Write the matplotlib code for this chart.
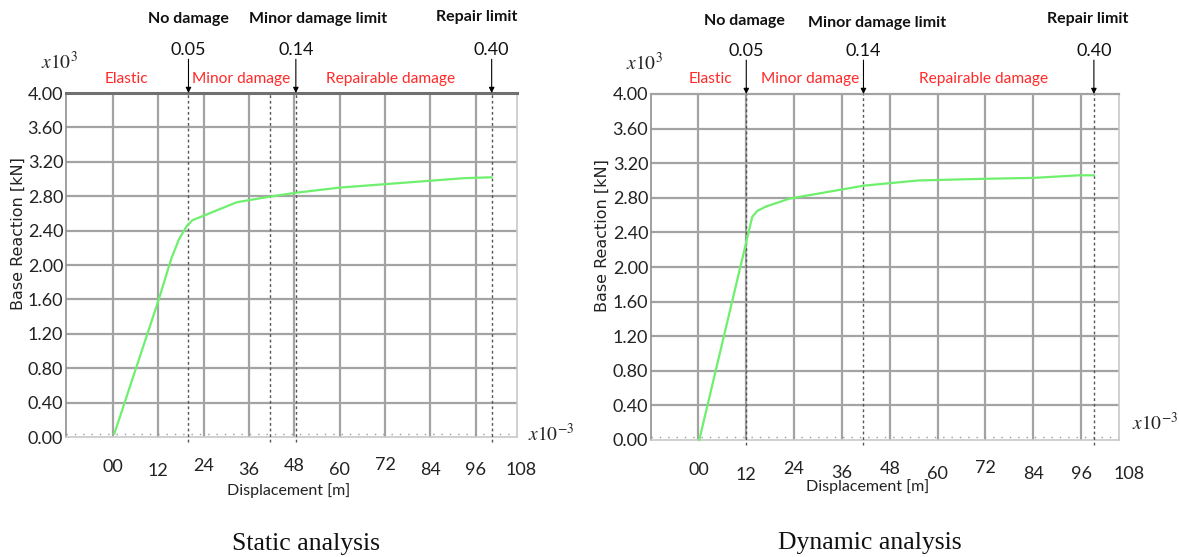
import matplotlib
matplotlib.use("Agg")
import matplotlib.pyplot as plt
import matplotlib.transforms as mtransforms
from matplotlib import font_manager

# ---------------- data ----------------
static_disp = [0.4, 12.0, 15.5, 17.5, 19.5, 21.0, 32.8, 41.5, 48.4, 60.0, 72.0, 84.0, 93.0, 100.2]
static_force = [0.04, 1.58, 2.08, 2.30, 2.45, 2.52, 2.73, 2.795, 2.84, 2.90, 2.94, 2.98, 3.01, 3.02]

dynamic_disp = [0.2, 13.5, 14.8, 17.0, 22.8, 41.4, 55.0, 72.0, 84.0, 95.4, 99.2]
dynamic_force = [0.0, 2.58, 2.65, 2.70, 2.79, 2.94, 3.00, 3.02, 3.03, 3.06, 3.06]

x_ticks = [0, 12, 24, 36, 48, 60, 72, 84, 96, 108]
x_tick_labels = ["00", "12", "24", "36", "48", "60", "72", "84", "96", "108"]
y_ticks = [0.0, 0.4, 0.8, 1.2, 1.6, 2.0, 2.4, 2.8, 3.2, 3.6, 4.0]
y_tick_labels = ["0.00", "0.40", "0.80", "1.20", "1.60", "2.00", "2.40", "2.80", "3.20", "3.60", "4.00"]

limit_names = ["No damage", "Minor damage limit", "Repair limit"]
limit_values = ["0.05", "0.14", "0.40"]
static_limit_disp = [20.0, 48.4, 100.2]
dynamic_limit_disp = [12.0, 41.4, 99.2]
static_extra_dotted = [41.5]
dynamic_extra_dotted = []

region_names = ["Elastic", "Minor damage", "Repairable damage"]
captions = ["Static analysis", "Dynamic analysis"]


def pick(families):
    avail = {f.name for f in font_manager.fontManager.ttflist}
    for f in families:
        if f in avail:
            return f
    return "DejaVu Sans"


NARROW = pick(["Lato", "Liberation Sans Narrow", "Open Sans", "Liberation Sans"])
SERIF = pick(["Liberation Serif", "DejaVu Serif"])
plt.rcParams["mathtext.fontset"] = "stix"

W, H = 1179, 557
fig = plt.figure(figsize=(W / 100, H / 100), dpi=100)


def fig_rect(l, r, t, b):
    return [l / W, 1 - b / H, (r - l) / W, (b - t) / H]


GRID = "#a3a3a3"
RED = "#ff2a2a"
FS = 13


def draw_panel(rect, xlim, disp, force, limit_disp, extra_dotted, region_x,
               name_offsets, top_thick, caption, cap_x, cap_y, xl_x, xl_y):
    ax = fig.add_axes(rect)
    ax.set_xlim(*xlim)
    ax.set_ylim(0, 4.0)
    # grid
    for xv in x_ticks:
        if xlim[0] < xv < xlim[1] - 0.5:
            ax.axvline(xv, color=GRID, lw=1.6, zorder=1)
    for yv in y_ticks[1:-1]:
        ax.axhline(yv, color=GRID, lw=1.6, zorder=1)
    # spines
    for s in ["left", "right", "bottom", "top"]:
        ax.spines[s].set_color("#c8c8c8")
        ax.spines[s].set_linewidth(1.2)
    ax.spines["left"].set_color("#909090")
    if top_thick:
        ax.spines["top"].set_color("#707070")
        ax.spines["top"].set_linewidth(2.2)
    else:
        ax.spines["top"].set_color(GRID)
        ax.spines["top"].set_linewidth(1.6)
    ax.axhline(0.03, color="#9a9a9a", lw=1.0, ls=(0, (1, 5)), zorder=1)
    # y ticks
    ax.set_yticks(y_ticks)
    ax.set_yticklabels(y_tick_labels, fontfamily=NARROW, fontsize=FS, color="#222222")
    ax.tick_params(axis="y", length=0, pad=2)
    ax.set_xticks([])
    # x tick labels (text, last one sits beyond the frame)
    tr = mtransforms.blended_transform_factory(ax.transData, ax.transAxes)
    jitter = [-0.088, -0.1, -0.083, -0.095, -0.083, -0.097, -0.082, -0.097, -0.097, -0.097]
    for xv, lab, jy in zip(x_ticks, x_tick_labels, jitter):
        ax.text(xv, jy, lab, transform=tr, ha="center", va="center",
                fontfamily=NARROW, fontsize=FS, color="#222222", clip_on=False)
    # curve
    ax.plot(disp, force, color="#6ef06e", lw=1.6, zorder=4, clip_on=False)
    # dotted limit lines & arrows
    for xv in list(limit_disp) + list(extra_dotted):
        ax.plot([xv, xv], [-0.06, 4.0], color="#555555", lw=1.0, ls=(0, (2, 2)),
                zorder=3, clip_on=False)
    for xv, nm, val, off in zip(limit_disp, limit_names, limit_values, name_offsets):
        ax.annotate("", xy=(xv, 1.0), xycoords=tr, xytext=(xv, 1.098), textcoords=tr,
                    arrowprops=dict(arrowstyle="-|>", color="black", lw=0.8,
                                    mutation_scale=8, shrinkA=0, shrinkB=0))
        ax.text(xv, 1.125, val, transform=tr, ha="center", va="center",
                fontfamily=NARROW, fontsize=FS, color="#111111")
        ax.text(xv + off[0], off[1], nm, transform=tr, ha="center", va="center",
                fontfamily=NARROW, fontsize=11.5, fontweight="bold", color="#111111")
    for xv, rn in zip(region_x, region_names):
        ax.text(xv, 1.042, rn, transform=tr, ha="center", va="center",
                fontfamily=NARROW, fontsize=11.2, color=RED)
    # axis titles
    ax.text(-0.105, 0.59, "Base Reaction [kN]", transform=ax.transAxes, rotation=90,
            ha="center", va="center", fontsize=11.5, color="#222222")
    ax.text(xl_x, xl_y, "Displacement [m]", transform=tr, ha="center", va="center",
            fontfamily=NARROW, fontsize=11.5, color="#222222")
    ax.text(-0.015, 1.09, r"$x10^{3}$", transform=ax.transAxes, ha="center", va="center",
            fontsize=14, color="#222222")
    ax.text(cap_x, cap_y, caption, transform=tr, ha="center", va="center",
            fontfamily=SERIF, fontsize=18.5, color="#111111")
    return ax


axL = draw_panel(fig_rect(66, 517, 93, 437), (-12.4, 106.9), static_disp, static_force,
                 static_limit_disp, static_extra_dotted, [3.6, 34.0, 73.5],
                 [(0, 1.215), (6, 1.215), (-4, 1.22)], True, captions[0], 51, -0.31,
                 46.5, -0.155)
axL.text(1.075, 0.01, r"$x10^{-3}$", transform=axL.transAxes, ha="center", va="center",
         fontsize=14, color="#222222")

axR = draw_panel(fig_rect(651, 1119, 94, 440), (-11.9, 105.5), dynamic_disp, dynamic_force,
                 dynamic_limit_disp, dynamic_extra_dotted, [3.1, 27.9, 71.6],
                 [(-0.5, 1.21), (3.4, 1.205), (-1.5, 1.217)], False, captions[1], 43, -0.298,
                 42.5, -0.135)
axR.text(1.077, 0.05, r"$x10^{-3}$", transform=axR.transAxes, ha="center", va="center",
         fontsize=14, color="#222222")

fig.savefig("out.png", dpi=100)
